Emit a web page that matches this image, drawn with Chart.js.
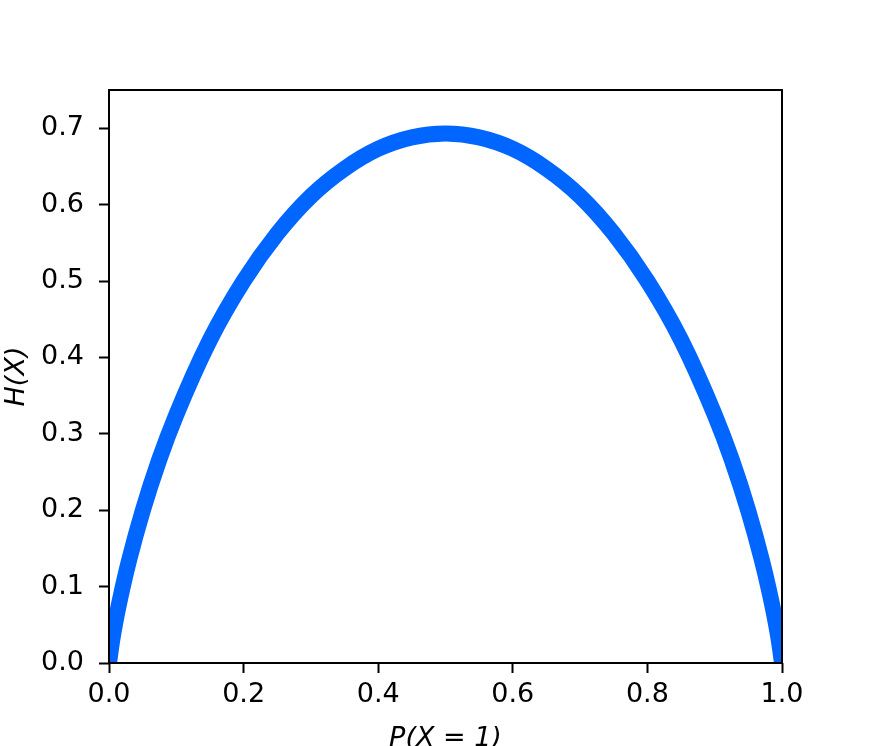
<!DOCTYPE html>
<html>
<head>
<meta charset="utf-8">
<script src="https://cdn.jsdelivr.net/npm/chart.js@4.4.1/dist/chart.umd.min.js"></script>
<style>
  html, body { margin: 0; padding: 0; background: #fff; }
  #wrap { width: 869px; height: 746px; }
</style>
</head>
<body>
<div id="wrap"><canvas id="chart" width="869" height="746"></canvas></div>
<script>
// values
const pValues = [0, 0.005, 0.01, 0.02, 0.03, 0.05, 0.075, 0.1, 0.15, 0.2, 0.25, 0.3, 0.35, 0.4, 0.45, 0.5,
  0.55, 0.6, 0.65, 0.7, 0.75, 0.8, 0.85, 0.9, 0.925, 0.95, 0.97, 0.98, 0.99, 0.995, 1];
const hValues = [0, 0.031, 0.056, 0.098, 0.135, 0.199, 0.267, 0.325, 0.423, 0.500, 0.562, 0.611, 0.647, 0.673, 0.688, 0.693,
  0.688, 0.673, 0.647, 0.611, 0.562, 0.500, 0.423, 0.325, 0.267, 0.199, 0.135, 0.098, 0.056, 0.031, 0];

const xTicks = [0, 0.2, 0.4, 0.6, 0.8, 1.0];
const yTicks = [0, 0.1, 0.2, 0.3, 0.4, 0.5, 0.6, 0.7];
const xLabel = "P(X = 1)";
const yLabel = "H(X)";

const FONT = "'DejaVu Sans', sans-serif";

// box around the plot area (top and right spines)
const frame = {
  id: "frame",
  afterDraw(chart) {
    const { ctx, chartArea: a } = chart;
    ctx.save();
    ctx.strokeStyle = "#000";
    ctx.lineWidth = 2;
    ctx.strokeRect(a.left, a.top, a.right - a.left, a.bottom - a.top);
    ctx.restore();
  },
};

new Chart(document.getElementById("chart"), {
  type: "line",
  data: {
    datasets: [{
      data: pValues.map((p, i) => ({ x: p, y: hValues[i] })),
      borderColor: "#0066ff",
      borderWidth: 16,
      pointRadius: 0,
      cubicInterpolationMode: "monotone",
      fill: false,
    }],
  },
  options: {
    responsive: false,
    animation: false,
    layout: { padding: { top: 90, right: 87, left: 0, bottom: 0 } },
    plugins: { legend: { display: false }, tooltip: { enabled: false } },
    scales: {
      x: {
        type: "linear",
        min: 0,
        max: 1,
        afterBuildTicks: (axis) => { axis.ticks = xTicks.map((v) => ({ value: v })); },
        afterFit: (axis) => { axis.height = 83; },
        ticks: {
          color: "#000",
          padding: 6,
          maxRotation: 0,
          font: { family: FONT, size: 27 },
          callback: (v) => Number(v).toFixed(1),
        },
        grid: { drawOnChartArea: false, tickLength: 10, tickWidth: 2, color: "#000" },
        border: { display: false },
        title: {
          display: true,
          text: xLabel,
          color: "#000",
          font: { family: FONT, size: 27, style: "italic", lineHeight: 1 },
          padding: { top: 0, bottom: -6 },
        },
      },
      y: {
        type: "linear",
        min: 0,
        max: 0.75,
        afterBuildTicks: (axis) => { axis.ticks = yTicks.map((v) => ({ value: v })); },
        afterFit: (axis) => { axis.width = 109; },
        ticks: {
          color: "#000",
          padding: 15,
          font: { family: FONT, size: 27 },
          callback: (v) => Number(v).toFixed(1),
        },
        grid: { drawOnChartArea: false, tickLength: 10, tickWidth: 2, color: "#000" },
        border: { display: false },
        title: {
          display: true,
          text: yLabel,
          color: "#000",
          font: { family: FONT, size: 27, style: "italic", lineHeight: 1 },
          padding: { top: 3, bottom: 0 },
        },
      },
    },
  },
  plugins: [frame],
});
</script>
</body>
</html>
